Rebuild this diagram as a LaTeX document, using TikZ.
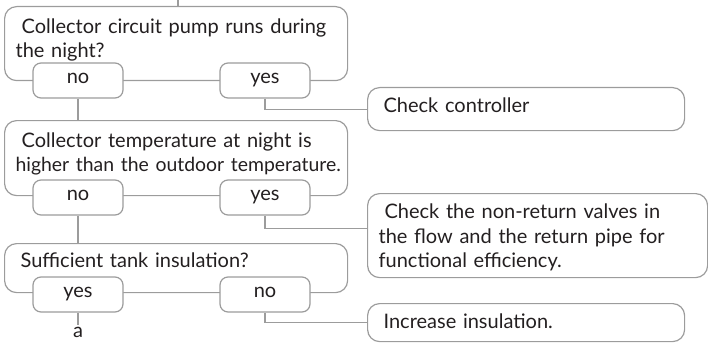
\documentclass[tikz,border=0pt]{standalone}
\usepackage{fontspec}
\setmainfont{Lato}
\definecolor{boxgray}{HTML}{9C9C9C}
\definecolor{txtgray}{HTML}{231F20}
\tikzset{
  question/.style={draw=boxgray, line width=1.2pt, rounded corners=12pt, anchor=north west,
    minimum width=343pt, text width=321pt, inner xsep=11pt, align=left, text height=15pt},
  answer/.style={draw=boxgray, line width=1.2pt, fill=white, rounded corners=8pt,
    minimum width=90pt, minimum height=35pt, text height=1ex, text depth=0pt, inner sep=0pt},
  action/.style={draw=boxgray, line width=1.2pt, rounded corners=12pt, anchor=north west,
    align=left, inner xsep=11pt, text height=15pt},
  link/.style={draw=boxgray, line width=1.2pt}
}
\begin{document}
\begin{tikzpicture}[x=1pt,y=-1pt,font=\fontsize{20}{23.5}\selectfont,text=txtgray]
\useasboundingbox (0,0) rectangle (708,342);
\node[question, minimum height=74pt, text depth=35pt] (q1) at (4,6)
  {\hspace*{6pt}Collector circuit pump runs during\\the night?};
\node[question, minimum height=75pt, text depth=36pt] (q2) at (4,120)
  {\hspace*{6pt}\makebox[308pt][s]{Collector temperature at night is}\\
   \makebox[321pt][l]{\fontsize{19.4}{23.5}\selectfont higher than the outdoor temperature.}};
\node[question, minimum height=49pt, text depth=16pt] (q3) at (4,243)
  {\hspace*{5pt}Sufficient tank insulation?};
\node[action, minimum width=317pt, minimum height=43pt, text width=295pt, text depth=8pt] (a1) at (367,87)
  {\hspace*{5pt}Check controller};
\node[action, minimum width=340pt, minimum height=84pt, text width=318pt, text depth=49pt,
  font=\fontsize{20}{24.5}\selectfont] (a2) at (367,193)
  {\hspace*{6pt}Check the non-return valves in\\the flow and the return pipe for\\functional efficiency.};
\node[action, minimum width=317pt, minimum height=38pt, text width=295pt, text depth=3pt] (a3) at (367,303)
  {\hspace*{5pt}Increase insulation.};
\node[answer] (q1no) at (78,80.5) {no};
\node[answer] (q1yes) at (265,80.5) {yes};
\node[answer] (q2no) at (78,197.5) {no};
\node[answer] (q2yes) at (265,197.5) {yes};
\node[answer] (q3yes) at (78,294.5) {yes};
\node[answer] (q3no) at (265,294.5) {no};
\node[anchor=north, inner sep=2pt] (cont) at (78,325) {a};
\coordinate (top) at (178,0);
\draw[link] (top) -- (top |- q1.north);
\draw[link] (q1no.south) -- (q1no.south |- q2.north);
\draw[link] (q2no.south) -- (q2no.south |- q3.north);
\draw[link] (q3yes.south) -- (cont.north);
\draw[link] (q1yes.south) |- (a1.west);
\draw[link] (q2yes.south) |- ([yshift=7pt]a2.west);
\draw[link] (q3no.south) |- (a3.west);
\end{tikzpicture}
\end{document}
